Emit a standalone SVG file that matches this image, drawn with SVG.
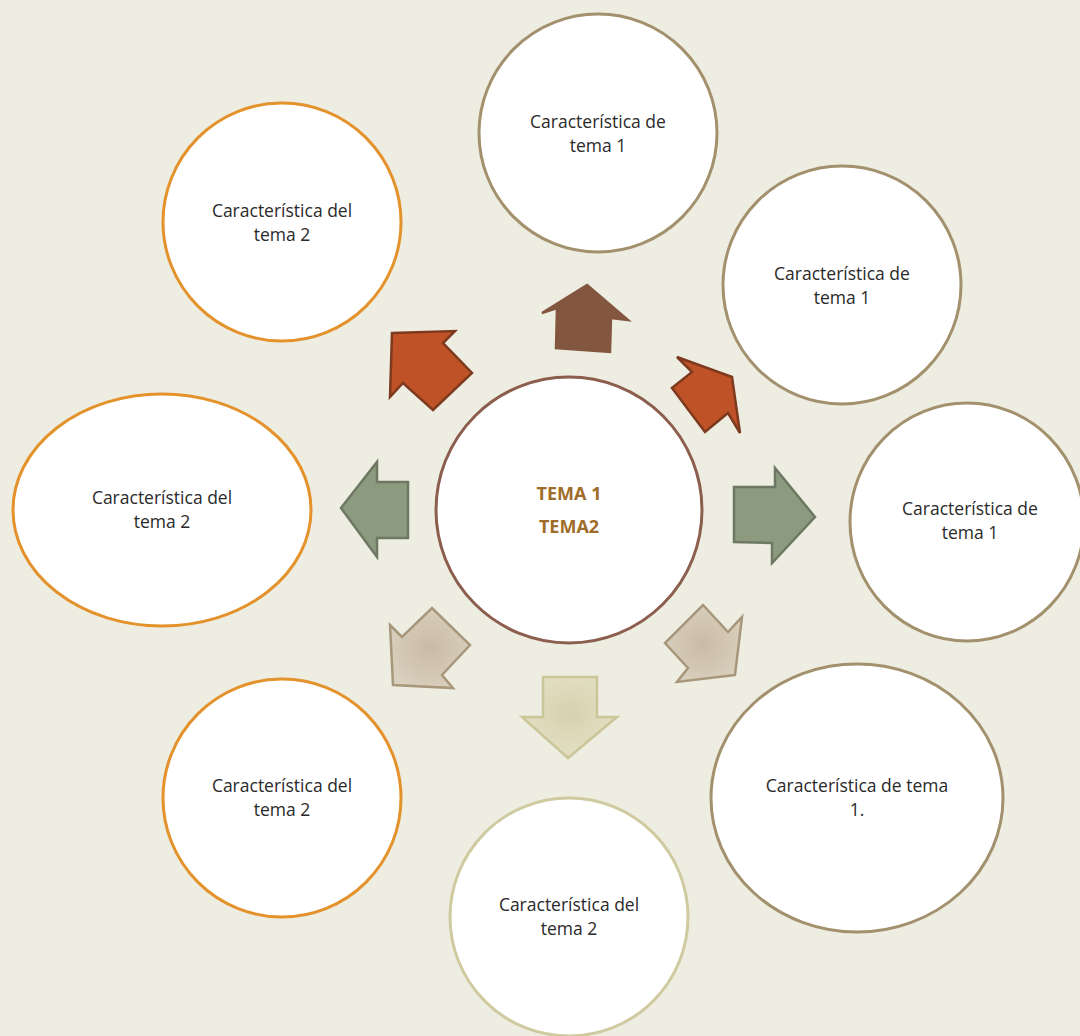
<svg xmlns="http://www.w3.org/2000/svg" width="1080" height="1036" viewBox="0 0 1080 1036">
<style>
.c{fill:#ffffff;stroke-width:3}
.tan{stroke:#a3916d}
.org{stroke:#e3922c}
.lt{stroke:#cfcaa0}
.t{font-family:"Open Sans","Noto Sans",sans-serif;font-size:17.5px;fill:#2a2a2a;text-anchor:middle}
.m{font-family:"Open Sans","Noto Sans",sans-serif;font-size:18px;font-weight:bold;fill:#a06c2a;text-anchor:middle}
.a{stroke-width:2.5;stroke-linejoin:miter}
</style>
<defs>
<radialGradient id="gb" cx="50%" cy="50%" r="55%">
<stop offset="0" stop-color="#c9baa6"/><stop offset="1" stop-color="#d9d0bd"/>
</radialGradient>
<radialGradient id="gy" cx="50%" cy="45%" r="55%">
<stop offset="0" stop-color="#d6d2b0"/><stop offset="1" stop-color="#e3dfc2"/>
</radialGradient>
</defs>
<rect width="1080" height="1036" fill="#eeede2"/>
<g id="connectors">
<polygon class="a" points="587,285 628,320 611,318 610,352 556,348 557,308 542,313" fill="#83563f" stroke="#83563f"/>
<polygon class="a" points="392,333 455,331 443,343 472,373 433,410 403,383 390,397" fill="#bf5227" stroke="#7e3a1e"/>
<polygon class="a" points="732,377 740,433 728,413 705,432 672,388 692,372 677,357" fill="#bf5227" stroke="#7e3a1e"/>
<polygon class="a" points="341,508 377,462 377,482 408,482 408,538 377,538 377,557" fill="#8c9b80" stroke="#6d7862"/>
<polygon class="a" points="815,517 775,468 775,487 734,487 734,542 772,543 772,563" fill="#8c9b80" stroke="#6d7862"/>
<polygon class="a" points="393,685 390,625 402,637 432,608 470,645 442,675 453,688" fill="url(#gb)" stroke="#a8977a"/>
<polygon class="a" points="735,675 677,682 688,668 665,643 703,605 728,632 742,617" fill="url(#gb)" stroke="#a8977a"/>
<polygon class="a" points="568,758 522,717 543,717 543,677 597,677 597,717 617,717" fill="url(#gy)" stroke="#cbc59a"/>
</g>
<g id="n-center">
<circle class="c" cx="569" cy="510" r="133" stroke="#8c5e4e"/>
<text class="m" x="569" y="500">TEMA 1</text>
<text class="m" x="569" y="533">TEMA2</text>
</g>
<g id="n-top">
<circle class="c tan" cx="598" cy="133" r="119"/>
<text class="t" x="598" y="128">Característica de</text>
<text class="t" x="598" y="152">tema 1</text>
</g>
<g id="n-topleft">
<circle class="c org" cx="282" cy="222" r="119"/>
<text class="t" x="282" y="217">Característica del</text>
<text class="t" x="282" y="241">tema 2</text>
</g>
<g id="n-topright">
<circle class="c tan" cx="842" cy="285" r="119"/>
<text class="t" x="842" y="280">Característica de</text>
<text class="t" x="842" y="304">tema 1</text>
</g>
<g id="n-left">
<ellipse class="c org" cx="162" cy="510" rx="149" ry="116"/>
<text class="t" x="162" y="504">Característica del</text>
<text class="t" x="162" y="528">tema 2</text>
</g>
<g id="n-right">
<ellipse class="c tan" cx="967" cy="522" rx="117" ry="119"/>
<text class="t" x="970" y="515">Característica de</text>
<text class="t" x="970" y="539">tema 1</text>
</g>
<g id="n-bottomleft">
<circle class="c org" cx="282" cy="798" r="119"/>
<text class="t" x="282" y="792">Característica del</text>
<text class="t" x="282" y="816">tema 2</text>
</g>
<g id="n-bottom">
<circle class="c lt" cx="569" cy="917" r="119"/>
<text class="t" x="569" y="911">Característica del</text>
<text class="t" x="569" y="935">tema 2</text>
</g>
<g id="n-bottomright">
<ellipse class="c tan" cx="857" cy="798" rx="146" ry="134"/>
<text class="t" x="857" y="792">Característica de tema</text>
<text class="t" x="857" y="816">1.</text>
</g>
</svg>
